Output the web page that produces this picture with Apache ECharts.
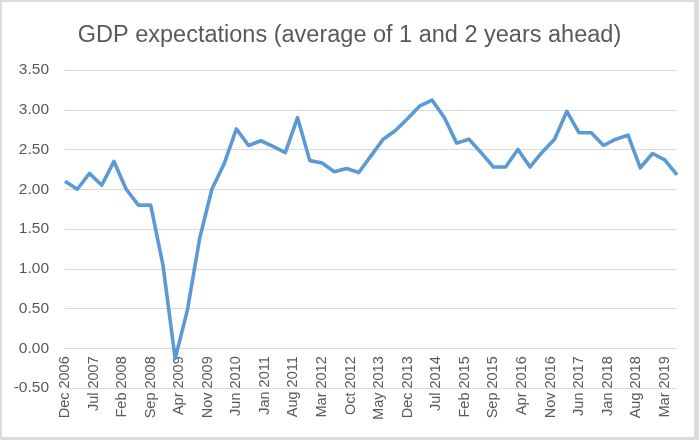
<!DOCTYPE html>
<html>
<head>
<meta charset="utf-8">
<script src="https://cdn.jsdelivr.net/npm/echarts@6/dist/echarts.min.js"></script>
<style>
  html, body { margin: 0; padding: 0; background: #fff; }
  #wrap { position: relative; width: 699px; height: 440px; }
  #chart { width: 699px; height: 440px; }
  #frame { position: absolute; left: 0; top: 0; width: 699px; height: 440px; box-sizing: border-box;
           border-style: solid; border-color: #dcdcdc; border-width: 2px 5px 3px 2px; pointer-events: none; }
</style>
</head>
<body>
<div id="wrap"><div id="chart"></div><div id="frame"></div></div>
<script>
// Quarterly survey dates: Dec 2006 ... Jun 2019
const startYear = 2006;
const startMonth = 11; // December (0-based)
const monthNames = ['Jan','Feb','Mar','Apr','May','Jun','Jul','Aug','Sep','Oct','Nov','Dec'];

// GDP expectations (average of 1 and 2 years ahead), one value per quarter
const gdpValues = [
  2.10, 2.00, 2.20, 2.05, 2.35, 2.00, 1.80, 1.80, 1.05, -0.13,
  0.48, 1.38, 2.00, 2.32, 2.76, 2.55, 2.61, 2.54, 2.46, 2.90,
  2.36, 2.33, 2.22, 2.26, 2.21, 2.42, 2.63, 2.74, 2.89, 3.05,
  3.12, 2.90, 2.58, 2.63, 2.46, 2.28, 2.28, 2.50, 2.28, 2.47,
  2.63, 2.98, 2.71, 2.71, 2.55, 2.63, 2.68, 2.27, 2.45, 2.37,
  2.18
];

const yTicks = [-0.5, 0, 0.5, 1, 1.5, 2, 2.5, 3, 3.5];

// Build a monthly date axis (like Excel's date axis) and place quarterly values on it
const nMonths = (gdpValues.length - 1) * 3 + 1;
const monthCats = [];
const monthData = [];
for (let i = 0; i < nMonths; i++) {
  const m = (startMonth + i) % 12;
  const y = startYear + Math.floor((startMonth + i) / 12);
  monthCats.push(monthNames[m] + ' ' + y);
  monthData.push(i % 3 === 0 ? gdpValues[i / 3] : null);
}

const gridTop = 70, gridBottom = 52, chartH = 440;
const yMin = yTicks[0], yMax = yTicks[yTicks.length - 1];
const plotH = chartH - gridTop - gridBottom;
// the category axis crosses the value axis at 0 (as in the Excel original)
const zeroOffset = -plotH * (0 - yMin) / (yMax - yMin);

const font = '"Liberation Sans", Arial, sans-serif';
const chart = echarts.init(document.getElementById('chart'), null, { renderer: 'canvas' });
chart.setOption({
  animation: false,
  backgroundColor: '#ffffff',
  title: {
    text: 'GDP expectations (average of 1 and 2 years ahead)',
    left: 'center',
    top: 19,
    textStyle: { fontFamily: font, fontSize: 23.5, fontWeight: 'normal', color: '#595959' }
  },
  grid: { left: 65, right: 22, top: gridTop, bottom: gridBottom, containLabel: false },
  xAxis: {
    type: 'category',
    data: monthCats,
    boundaryGap: false,
    offset: zeroOffset,
    axisLine: { onZero: false, lineStyle: { color: '#d9d9d9', width: 1 } },
    axisTick: { show: false },
    axisLabel: {
      interval: 6,
      rotate: 90,
      margin: 8,
      fontFamily: font,
      fontSize: 14.5,
      color: '#595959'
    },
    splitLine: { show: false }
  },
  yAxis: {
    type: 'value',
    min: yMin,
    max: yMax,
    interval: 0.5,
    axisLine: { show: false },
    axisTick: { show: false },
    axisLabel: {
      margin: 16,
      fontFamily: font,
      fontSize: 15.5,
      color: '#595959',
      formatter: v => v.toFixed(2)
    },
    splitLine: { lineStyle: { color: '#d9d9d9', width: 1 } }
  },
  series: [{
    type: 'line',
    data: monthData,
    connectNulls: true,
    showSymbol: false,
    symbol: 'none',
    lineStyle: { color: '#5b9bd5', width: 3.6, join: 'round' },
    itemStyle: { color: '#5b9bd5' }
  }]
});
</script>
</body>
</html>
